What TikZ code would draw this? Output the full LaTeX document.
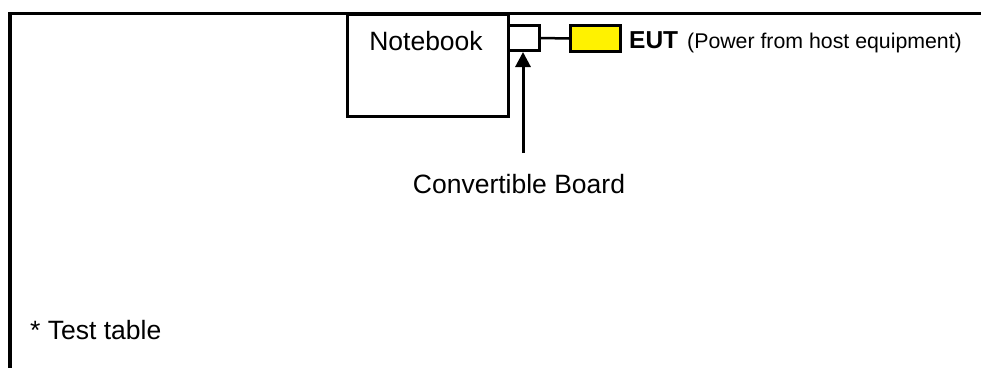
\documentclass[tikz,border=0pt]{standalone}
\usepackage{fontspec}
\setmainfont{Liberation Sans}
\usetikzlibrary{arrows.meta}
\tikzset{
  box/.style={draw=black, line width=3pt, inner sep=0pt, fill=white},
  lbl/.style={inner sep=0pt, anchor=base, font=\fontsize{26.5pt}{29pt}\selectfont},
}
\begin{document}
\begin{tikzpicture}[x=1pt,y=-1pt]
\useasboundingbox (0,0) rectangle (981,367);
% table edges
\coordinate (tl) at (10,13.5);
\coordinate (bl) at (10,370);
\coordinate (tr) at (990,13.5);
\draw[line width=3.5pt] (bl) -- (tl) -- (tr);
% notebook
\node[box, minimum width=161pt, minimum height=102pt, anchor=north west] (nb) at (346,13) {};
\node[lbl] (nbt) at (426,50) {Notebook};
% convertible board
\node[box, minimum width=31pt, minimum height=25pt, anchor=north west] (cb) at (507,24) {};
% EUT
\node[box, fill=yellow, minimum width=50pt, minimum height=26pt, anchor=north west] (eut) at (569,24) {};
\draw[line width=2.5pt] (cb.east) -- (eut.west);
\node[inner sep=0pt, anchor=base west, font=\fontsize{24.5pt}{27pt}\selectfont\bfseries] (eutt) at (629,48) {EUT};
\node[inner sep=0pt, anchor=base west, font=\fontsize{21.3pt}{24pt}\selectfont] (pw) at (687,48) {(Power from host equipment)};
% arrow
\coordinate (ab) at (523,153);
\draw[line width=3pt, -{Triangle[width=15pt,length=15pt]}] (ab) -- (cb.south -| ab);
\node[lbl] (cbt) at (519,193) {Convertible Board};
\node[lbl, anchor=base west] (tt) at (30,339) {* Test table};
\end{tikzpicture}
\end{document}
